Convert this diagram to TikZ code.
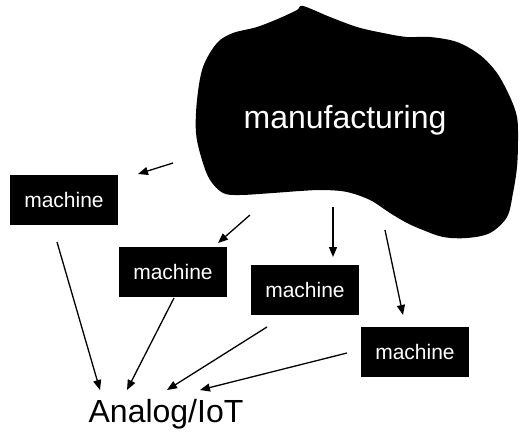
\documentclass[tikz,border=0pt]{standalone}
\usepackage{fontspec}
\setmainfont{Liberation Sans}
\usetikzlibrary{arrows.meta}
\tikzset{
  mbox/.style={fill=black, text=white, minimum width=108pt, minimum height=50pt,
               inner sep=0pt, font=\fontsize{21}{25}\selectfont},
  bigtext/.style={font=\fontsize{32}{38}\selectfont},
  arr/.style={-{Triangle[length=10pt,width=8pt]}, line width=1.3pt},
}
\begin{document}
\begin{tikzpicture}[x=1pt,y=-1pt]
  \useasboundingbox (0,0) rectangle (520,439);
  % --- blob ---
  \fill[black] plot[smooth cycle, tension=0.55] coordinates {
    (303,6) (330,17) (357,27) (383,33) (407,37) (430,37) (457,42) (480,55)
    (497,73) (510,97) (517,117) (518,140) (517,167) (513,193) (507,217)
    (490,233) (467,238) (443,237) (423,230) (407,223) (390,213) (370,200)
    (347,192) (323,190) (300,191) (273,193) (240,195) (223,193) (210,180)
    (202,160) (196,133) (197,100) (203,67) (217,43) (233,33) (257,27)
    (280,18) (297,10)};
  \node[bigtext, text=white] (mfg) at (345,120) {manufacturing};
  % --- machines ---
  \node[mbox] (mA) at (64,200) {machine};
  \node[mbox] (mB) at (173,272) {machine};
  \node[mbox] (mC) at (305,290) {machine};
  \node[mbox] (mD) at (415,352) {machine};
  \node[bigtext] (iot) at (166,414) {Analog/IoT};
  % arrow ends
  \coordinate (sA) at (173,163); \coordinate (tA) at (138,174);
  \coordinate (sB) at (250,215); \coordinate (tB) at (218,243);
  \coordinate (sC) at (333,207); \coordinate (tC) at (333,257);
  \coordinate (sD) at (385,230); \coordinate (tD) at (403,315);
  \coordinate (uA) at (57,242);  \coordinate (iA) at (100,390);
  \coordinate (uB) at (174,298); \coordinate (iB) at (127,390);
  \coordinate (uC) at (267,327); \coordinate (iC) at (167,390);
  \coordinate (uD) at (347,353); \coordinate (iD) at (200,390);
  % manufacturing -> machines
  \foreach \k in {A,B,C,D}{
    \draw[arr] (s\k) -- (t\k);
  }
  % machines -> Analog/IoT
  \foreach \k in {A,B,C,D}{
    \draw[arr] (u\k) -- (i\k);
  }
\end{tikzpicture}
\end{document}
